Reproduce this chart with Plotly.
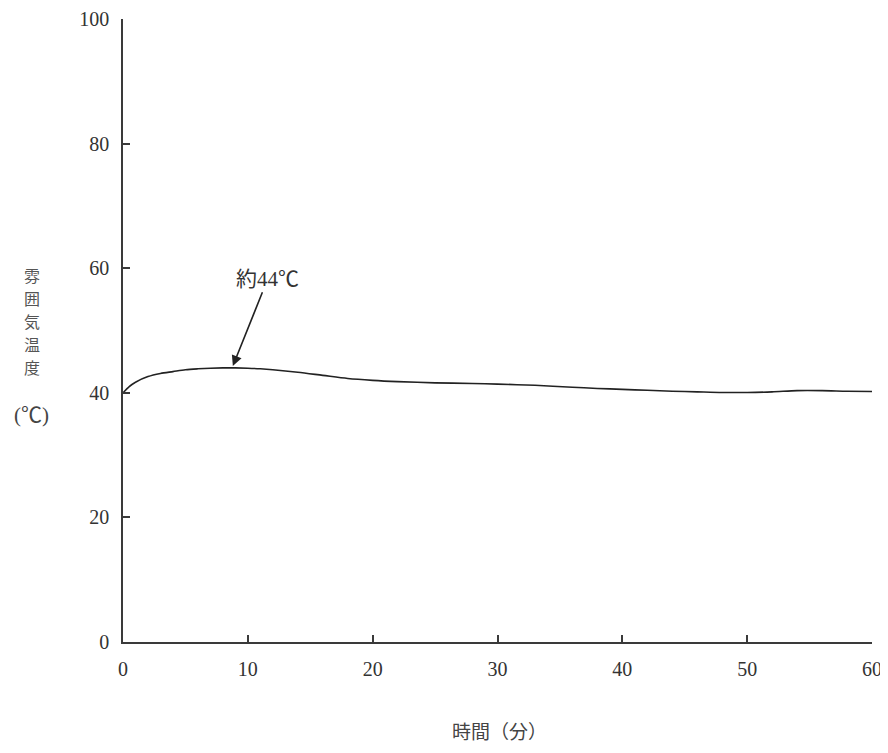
import plotly.graph_objects as go

# time (min) and atmosphere temperature (deg C)
time_min = [0, 0.5, 1, 2, 3, 4, 5, 6, 7, 8, 9, 10, 11, 12, 14, 16, 18, 20, 22, 25,
            28, 30, 33, 36, 38, 40, 42, 44, 46, 48, 50, 52, 54, 56, 58, 60]
temp_c = [40.0, 41.0, 41.7, 42.6, 43.1, 43.4, 43.7, 43.85, 43.95, 44.0, 44.0, 43.95,
          43.85, 43.7, 43.3, 42.8, 42.3, 42.0, 41.8, 41.6, 41.5, 41.4, 41.2, 40.9,
          40.7, 40.55, 40.4, 40.25, 40.15, 40.05, 40.05, 40.15, 40.35, 40.35, 40.25, 40.2]

x_ticks = [0, 10, 20, 30, 40, 50, 60]
y_ticks = [0, 20, 40, 60, 80, 100]

peak_label = "約44℃"
peak_x, peak_y = 8.8, 44.3
label_x, label_y = 11.6, 58.3

y_title_chars = ["雰", "囲", "気", "温", "度"]
y_title_unit = "(℃)"
x_title = "時間（分）"

FONT = "Liberation Serif, Noto Sans CJK JP, serif"
JP_FONT = "Noto Sans CJK JP, sans-serif"
AXIS = "#3a3a3a"


def main():
    fig = go.Figure()
    fig.add_trace(go.Scatter(x=time_min, y=temp_c, mode="lines",
                             line=dict(color="#222222", width=1.6, shape="spline", smoothing=0.8),
                             showlegend=False, hoverinfo="x+y"))

    axis_common = dict(showline=True, linecolor=AXIS, linewidth=1.5, ticks="inside",
                       ticklen=7, tickwidth=1.5, tickcolor=AXIS, showgrid=False,
                       zeroline=False, automargin=False,
                       tickfont=dict(family=FONT, size=20, color="#333333"))
    fig.update_xaxes(range=[0, 60], tickvals=x_ticks, ticklabelstandoff=8, **axis_common)
    fig.update_yaxes(range=[0, 100], tickvals=y_ticks, ticklabelstandoff=8, **axis_common)

    fig.add_annotation(x=peak_x, y=peak_y, ax=label_x, ay=label_y, axref="x", ayref="y",
                       text=peak_label, showarrow=True, arrowhead=2, arrowsize=1.3,
                       arrowwidth=1.6, arrowcolor="#222222",
                       font=dict(family=FONT, size=21, color="#333333"))

    # y-axis title: one upright character per row, then the unit below
    for i, ch in enumerate(y_title_chars):
        fig.add_annotation(xref="paper", yref="paper", x=-0.1215, y=0.589 - i * 0.037,
                           showarrow=False, text=ch, xanchor="center", yanchor="middle",
                           font=dict(family=JP_FONT, size=16, color="#555555"))
    fig.add_annotation(xref="paper", yref="paper", x=-0.1215, y=0.364, showarrow=False,
                       text=y_title_unit, xanchor="center", yanchor="middle",
                       font=dict(family=FONT, size=21, color="#444444"))
    fig.add_annotation(xref="paper", yref="paper", x=0.503, y=-0.142, showarrow=False,
                       text=x_title, xanchor="center", yanchor="middle",
                       font=dict(family=JP_FONT, size=19, color="#444444"))

    # page body adds an 8px margin all round, so keep the figure inside the window
    fig.update_layout(width=880, height=737, plot_bgcolor="white", paper_bgcolor="white",
                      margin=dict(l=115, r=16, t=11, b=103))
    fig.write_html("out.html")


if __name__ == "__main__":
    main()
